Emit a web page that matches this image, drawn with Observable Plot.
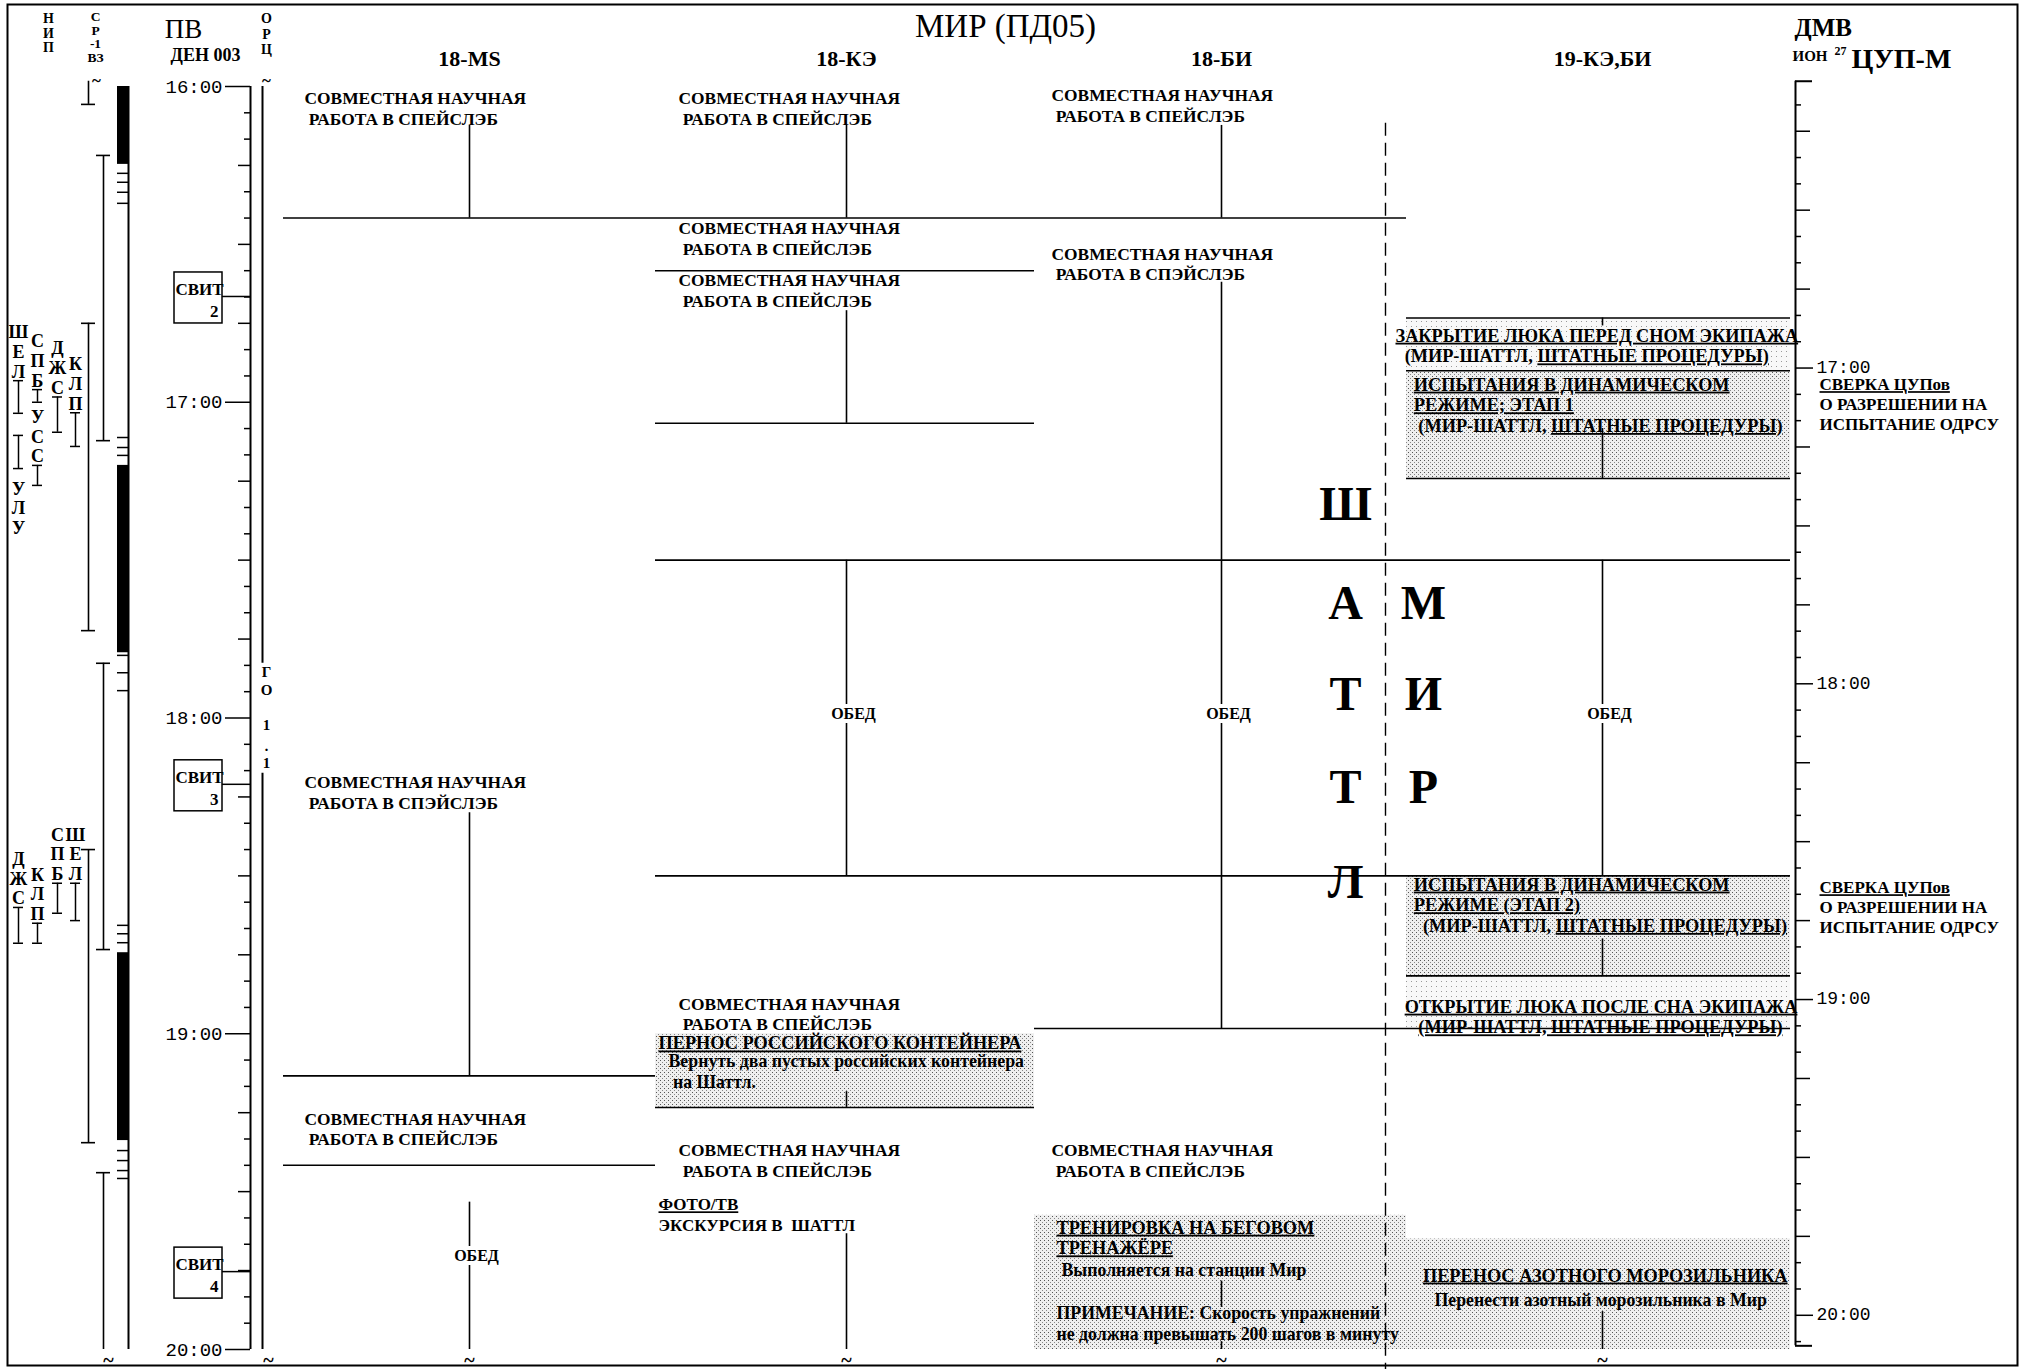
<!DOCTYPE html>
<html>
<head>
<meta charset="utf-8">
<script src="https://cdn.jsdelivr.net/npm/d3@7"></script>
<script src="https://cdn.jsdelivr.net/npm/@observablehq/plot@0.6"></script>
<style>
  html, body { margin: 0; padding: 0; background: #fff; }
  #chart svg { display: block; }
  #chart svg text, #chart svg tspan { white-space: pre; }
</style>
</head>
<body>
<div id="chart"></div>
<script>
const hm = s => { const [h, m] = s.split(":"); return +h * 60 + +m; };

/* ================= DATA ================= */
const chartTitle = "МИР (ПД05)";
const lanes = ["18-MS", "18-КЭ", "18-БИ", "19-КЭ,БИ"];
const pvTickLabels = ["16:00", "17:00", "18:00", "19:00", "20:00"];
const dmvTickLabels = ["17:00", "18:00", "19:00", "20:00"];
const dmvShift = 6.5;               // ДМВ − ПВ, minutes
const mealLabel = "ОБЕД";
const svitLabel = "СВИТ";

const WORK = "СОВМЕСТНАЯ НАУЧНАЯ\n РАБОТА В СПЕЙСЛЭБ";
const WORK_B = "СОВМЕСТНАЯ НАУЧНАЯ\n РАБОТА В СПЭЙСЛЭБ";

// [lane, kind, time of text top, text]   (_…_ = underlined)
const activities = [
  [0, "work", "16:00.5", WORK],
  [0, "work", "18:10.5", WORK_B],
  [0, "work", "19:14.5", WORK],
  [1, "work", "16:00.5", WORK],
  [1, "work", "16:25.2", WORK],
  [1, "work", "16:35.2", WORK],
  [1, "work", "18:52.6", WORK],
  [1, "task", "19:00.2", "_ПЕРНОС РОССИЙСКОГО КОНТЕЙНЕРА_"],
  [1, "note", "19:03.6", "Вернуть два пустых российских контейнера\n на Шаттл."],
  [1, "work", "19:20.4", WORK],
  [1, "minor", "19:30.8", "_ФОТО/ТВ_\nЭКСКУРСИЯ В  ШАТТЛ"],
  [2, "work", "16:00", WORK],
  [2, "work", "16:30.1", WORK_B],
  [2, "work", "19:20.4", WORK],
  [2, "task", "19:35.2", "_ТРЕНИРОВКА НА БЕГОВОМ_\n_ТРЕНАЖЁРЕ_"],
  [2, "note", "19:43.2", "Выполняется на станции Мир"],
  [2, "remark", "19:51.4", "ПРИМЕЧАНИЕ: Скорость упражнений\nне должна превышать 200 шагов в минуту"],
  [3, "task", "16:45.7", "_ЗАКРЫТИЕ ЛЮКА ПЕРЕД СНОМ ЭКИПАЖА_\n  (МИР-ШАТТЛ, _ШТАТНЫЕ ПРОЦЕДУРЫ)_"],
  [3, "task", "16:55", "    _ИСПЫТАНИЯ В ДИНАМИЧЕСКОМ_\n    _РЕЖИМЕ; ЭТАП 1_\n     (МИР-ШАТТЛ, _ШТАТНЫЕ ПРОЦЕДУРЫ)_"],
  [3, "task", "18:30", "    _ИСПЫТАНИЯ В ДИНАМИЧЕСКОМ_\n    _РЕЖИМЕ (ЭТАП 2)_\n      (МИР-ШАТТЛ, _ШТАТНЫЕ ПРОЦЕДУРЫ)_"],
  [3, "task", "18:53.2", "  _ОТКРЫТИЕ ЛЮКА ПОСЛЕ СНА ЭКИПАЖА_\n     _(МИР-ШАТТЛ, ШТАТНЫЕ ПРОЦЕДУРЫ)_"],
  [3, "task", "19:44.3", "      _ПЕРЕНОС АЗОТНОГО МОРОЗИЛЬНИКА_"],
  [3, "note", "19:49", "Перенести азотный морозильника в Мир"]
];
// [lane, time]
const meals = [[0, "19:42.3"], [1, "17:59.3"], [2, "17:59.3"], [3, "17:59.3"]];
// [time, fromLane, toLane]
const separators = [
  ["16:25", 0, 2], ["16:35", 1, 1], ["17:04", 1, 1],
  ["16:44", 3, 3], ["16:54", 3, 3], ["17:14.5", 3, 3],
  ["17:30", 1, 3], ["18:30", 1, 3], ["18:49", 3, 3], ["18:59", 2, 3],
  ["19:08", 0, 0], ["19:14", 1, 1], ["19:25", 0, 0]
];
// [lane, from, to]
const connectors = [
  [0, "16:07.4", "16:25"], [0, "18:18", "19:08"], [0, "19:32", "20:00"],
  [1, "16:07.4", "16:25"], [1, "16:42.6", "17:04"], [1, "17:30", "18:30"], [1, "19:11", "19:14"], [1, "19:38", "20:00"],
  [2, "16:07.4", "16:25"], [2, "16:37.2", "17:30"], [2, "17:30", "18:59"], [2, "19:47", "19:52"], [2, "19:58.5", "20:00"],
  [3, "16:44", "16:45.5"], [3, "17:05", "17:14.5"], [3, "17:30", "18:30"], [3, "18:42", "18:49"], [3, "19:52.8", "20:00"]
];
const shadedBlocks = [[1, "19:00", "19:14"], [2, "19:34.5", "20:00"], [3, "16:54", "17:14.5"], [3, "18:30", "18:49"], [3, "19:39", "20:00"]];
const faintBlocks = [[3, "16:44", "16:54"], [3, "18:49", "18:59"]];

const shuttleLetters = ["Ш", "А", "Т", "Т", "Л"];
const shuttleTimes = ["17:19.4", "17:38.2", "17:55.5", "18:13.2", "18:31.3"];
const mirLetters = ["М", "И", "Р"];
const mirTimes = ["17:38.2", "17:55.5", "18:13.2"];

const cupNotes = [
  ["16:54.8", "_СВЕРКА ЦУПов_\nО РАЗРЕШЕНИИ НА\nИСПЫТАНИЕ ОДРСУ"],
  ["18:30.4", "_СВЕРКА ЦУПов_\nО РАЗРЕШЕНИИ НА\nИСПЫТАНИЕ ОДРСУ"]
];

// НИП visibility bars: [track, start, end]
const nipBars = [
  [0, "15:59", "16:03.4"], [1, "16:13.1", "17:07.3"], [0, "16:45", "17:43.4"],
  [1, "17:49.6", "18:44"], [0, "18:25", "19:20.7"], [1, "19:26.4", "20:00"]
];
// СР-1 ВЗ dark periods and marks
const srDark = [["16:00", "16:14.8"], ["17:12", "17:47.6"], ["18:44.6", "19:20.3"]];
const srTicks = ["16:16.5", "16:18.2", "16:20.1", "16:22.2", "17:06.7", "17:08.6", "17:10.1",
                 "17:48.1", "17:51.4", "17:54.8", "18:39.4", "18:41", "18:42.7",
                 "19:22.2", "19:24.1", "19:26", "19:27.5"];
// station passes: [station, track, start, end, label side]
const passes = [
  ["ШЕЛ", 0, "16:55.9", "17:02.1", "above"], ["СПБ", 1, "16:57.6", "17:00", "above"],
  ["ДЖС", 2, "16:59", "17:05.7", "above"], ["КЛП", 3, "17:02", "17:08.4", "above"],
  ["УЛУ", 0, "17:06.3", "17:12.6", "below"], ["УСС", 1, "17:12", "17:15.8", "above"],
  ["СПБ", 2, "18:31.4", "18:37.1", "above"], ["ШЕЛ", 3, "18:31.4", "18:38.5", "above"],
  ["ДЖС", 0, "18:36", "18:42.8", "above"], ["КЛП", 1, "18:39", "18:42.8", "above"]
];
const svitNumbers = ["2", "3", "4"];
const svitTimes = ["16:39.9", "18:12.6", "19:45.2"];
const orcChars = ["Г", "О", "1", "·", "1"];
const orcTimes = ["17:51.3", "17:54.7", "18:01.4", "18:06.2", "18:08.6"];
const orcGap = ["17:49.6", "18:10.5"];

/* ================= LAYOUT ================= */
const W = 2026, H = 1369;
const Y16 = 86, PXM = 5.2625;                 // 16:00 at 86px, px per minute
const T0 = hm("16:00") - Y16 / PXM, T1 = hm("16:00") + (H - Y16) / PXM;
const tStart = hm("16:00"), tEnd = hm("20:00");
const laneLeft = [283, 655, 1034, 1406], laneRight = [655, 1034, 1406, 1790], laneMid = [469, 846, 1221, 1602];
const kindX = {
  work: [304, 678, 1051, 1400], task: [658, 658, 1056, 1395], minor: [658, 658, 1056, 1395],
  note: [668, 668, 1061, 1434], remark: [1056, 1056, 1056, 1400]
};
const kindSize = {work: 17.4, task: 18.3, minor: 17, note: 17.8, remark: 17.8};
const kindLead = {work: 1.19, task: 1.13, minor: 1.2, note: 1.15, remark: 1.16};
const dashX = 1385, dashFrom = "16:07";
const pvAxisX = 250, dmvAxisX = 1795, orcX = 262, srX0 = 117, srX1 = 128;
const nipX = [88, 103], passX = [18, 37, 57, 75];
const svitX0 = 174, svitX1 = 222;
const SW = 1.6;

const marks = [];
const at = f => () => f;

// shading
marks.push(Plot.rect(faintBlocks, {x1: d => laneLeft[d[0]], x2: d => laneRight[d[0]], y1: d => hm(d[1]), y2: d => hm(d[2]), fill: "url(#dotsLight)"}));
marks.push(Plot.rect(shadedBlocks, {x1: d => laneLeft[d[0]], x2: d => laneRight[d[0]], y1: d => hm(d[1]), y2: d => hm(d[2]), fill: "url(#dotsDense)"}));
// separators and connectors
marks.push(Plot.ruleY(separators, {y: d => hm(d[0]), x1: d => laneLeft[d[1]], x2: d => laneRight[d[2]], strokeWidth: SW}));
marks.push(Plot.ruleX(connectors, {x: d => laneMid[d[0]], y1: d => hm(d[1]), y2: d => hm(d[2]), strokeWidth: SW}));
marks.push(Plot.ruleX([0], {x: at(dashX), y1: at(hm(dashFrom)), y2: at(T1), strokeWidth: 1.4, strokeDasharray: "13,7"}));

// activity texts
for (const kind of Object.keys(kindX)) {
  marks.push(Plot.text(activities.filter(d => d[1] === kind), {
    x: d => kindX[kind][d[0]], y: d => hm(d[2]), text: d => d[3],
    textAnchor: "start", lineAnchor: "top", fontSize: kindSize[kind], fontWeight: "bold", lineHeight: kindLead[kind]
  }));
}
marks.push(Plot.text(meals, {x: d => laneMid[d[0]] + 7, y: d => hm(d[1]), text: at(mealLabel), fontSize: 16, fontWeight: "bold",
  stroke: "white", strokeWidth: 8, paintOrder: "stroke", fill: "black"}));

// ШАТТЛ / МИР
marks.push(Plot.text(shuttleLetters, {x: at(1345), y: (d, i) => hm(shuttleTimes[i]), text: d => d, fontSize: 48, fontWeight: "bold"}));
marks.push(Plot.text(mirLetters, {x: at(1423), y: (d, i) => hm(mirTimes[i]), text: d => d, fontSize: 48, fontWeight: "bold"}));

// headers
const hdr = (label, x, dy, o = {}) => Plot.text([label], {x: at(x), frameAnchor: "top", lineAnchor: "middle", dy, text: d => d, ...o});
marks.push(hdr(chartTitle, 1005, 26, {fontSize: 33}));
marks.push(Plot.text(lanes, {x: (d, i) => laneMid[i], frameAnchor: "top", lineAnchor: "middle", dy: 58, text: d => d, fontSize: 22, fontWeight: "bold"}));
marks.push(hdr("Н\nИ\nП", 48, 12, {lineAnchor: "top", fontSize: 14, fontWeight: "bold", lineHeight: 1.05}));
marks.push(hdr("С\nР\n-1\nВЗ", 95, 11, {lineAnchor: "top", fontSize: 13.5, fontWeight: "bold", lineHeight: 1.0}));
marks.push(hdr("О\nР\nЦ", 266, 12, {lineAnchor: "top", fontSize: 14, fontWeight: "bold", lineHeight: 1.1}));
marks.push(hdr("ПВ", 183, 29, {fontSize: 27}));
marks.push(hdr("ДЕН 003", 205, 55, {fontSize: 18, fontWeight: "bold"}));
marks.push(hdr("ДМВ", 1794, 27, {textAnchor: "start", fontSize: 25, fontWeight: "bold"}));
marks.push(hdr("ИОН", 1792, 56, {textAnchor: "start", fontSize: 15, fontWeight: "bold"}));
marks.push(hdr("27", 1834, 51, {textAnchor: "start", fontSize: 12, fontWeight: "bold"}));
marks.push(hdr("ЦУП-М", 1851, 59, {textAnchor: "start", fontSize: 28, fontWeight: "bold"}));

// ПВ axis (left)
const pvTicks = d3.range(tStart, tEnd + 1, 5);
marks.push(Plot.ruleX([0], {x: at(pvAxisX), y1: at(tStart), y2: at(tEnd), strokeWidth: 2}));
marks.push(Plot.ruleY(pvTicks, {y: d => d, x1: d => pvAxisX - (d % 60 === 0 ? 25 : d % 15 === 0 ? 12 : 6), x2: at(pvAxisX), strokeWidth: 1.5}));
marks.push(Plot.text(pvTickLabels, {x: at(pvAxisX - 28), y: d => hm(d), text: d => d, textAnchor: "end", fontFamily: "Liberation Mono", fontSize: 19}));

// ДМВ axis (right)
const dmvTicks = d3.range(hm("16:10"), hm("20:05") + 1, 5);
marks.push(Plot.ruleX([0], {x: at(dmvAxisX), y1: at(tStart - 1), y2: at(tEnd - 0.7), strokeWidth: 2}));
marks.push(Plot.ruleY(dmvTicks, {y: d => d - dmvShift, x1: at(dmvAxisX), x2: d => dmvAxisX + (d % 60 === 0 ? 18 : d % 15 === 0 ? 15 : 6), strokeWidth: 1.5}));
marks.push(Plot.ruleY([tStart - 1, tEnd - 0.7], {y: d => d, x1: at(dmvAxisX), x2: at(dmvAxisX + 17), strokeWidth: 2}));
marks.push(Plot.text(dmvTickLabels, {x: at(dmvAxisX + 21), y: d => hm(d) - dmvShift, dy: -1, text: d => d, textAnchor: "start", fontFamily: "Liberation Mono", fontSize: 18}));
marks.push(Plot.text(cupNotes, {x: at(1819), y: d => hm(d[0]), dy: 1, text: d => d[1], textAnchor: "start", lineAnchor: "top", fontSize: 17, fontWeight: "bold", lineHeight: 1.18}));

// НИП bars
marks.push(Plot.ruleX(nipBars, {x: d => nipX[d[0]], y1: d => hm(d[1]), y2: d => hm(d[2]), strokeWidth: SW}));
const nipCaps = nipBars.flatMap(d => [[d[0], d[1]], [d[0], d[2]]]).filter(c => hm(c[1]) >= tStart && hm(c[1]) < tEnd);
marks.push(Plot.ruleY(nipCaps, {y: d => hm(d[1]), x1: d => nipX[d[0]] - 7, x2: d => nipX[d[0]] + 7, strokeWidth: SW}));

// СР-1 ВЗ
marks.push(Plot.ruleX([0], {x: at(srX1), y1: at(tStart), y2: at(tEnd), strokeWidth: 2}));
marks.push(Plot.rect(srDark, {x1: at(srX0), x2: at(srX1), y1: d => hm(d[0]), y2: d => hm(d[1]), fill: "black"}));
marks.push(Plot.ruleY(srTicks, {y: d => hm(d), x1: at(srX0), x2: at(srX1), strokeWidth: 1.5}));

// station passes
marks.push(Plot.ruleX(passes, {x: d => passX[d[1]], y1: d => hm(d[2]), y2: d => hm(d[3]), strokeWidth: 1.5}));
marks.push(Plot.ruleY(passes.flatMap(d => [[d[1], d[2]], [d[1], d[3]]]), {y: d => hm(d[1]), x1: d => passX[d[0]] - 5, x2: d => passX[d[0]] + 5, strokeWidth: 1.5}));
marks.push(Plot.text(passes.filter(d => d[4] === "above"), {x: d => passX[d[1]], y: d => hm(d[2]), text: d => [...d[0]].join("\n"),
  lineAnchor: "bottom", dy: -3, fontSize: 18, fontWeight: "bold", lineHeight: 1.1}));
marks.push(Plot.text(passes.filter(d => d[4] === "below"), {x: d => passX[d[1]], y: d => hm(d[3]), text: d => [...d[0]].join("\n"),
  lineAnchor: "top", dy: 12, fontSize: 18, fontWeight: "bold", lineHeight: 1.1}));

// СВИТ boxes
marks.push(Plot.rect(svitTimes, {x1: at(svitX0), x2: at(svitX1), y1: d => hm(d) - 24 / PXM, y2: d => hm(d) + 27 / PXM, fill: "white", stroke: "black", strokeWidth: 1.5}));
marks.push(Plot.ruleY(svitTimes, {y: d => hm(d), x1: at(svitX1), x2: at(pvAxisX), strokeWidth: 1.5}));
marks.push(Plot.text(svitTimes, {x: at(svitX0 + 1), y: d => hm(d), dy: -7, text: at(svitLabel), textAnchor: "start", fontSize: 17, fontWeight: "bold"}));
marks.push(Plot.text(svitTimes, {x: at(svitX1 - 4), y: d => hm(d), dy: 15, text: (d, i) => svitNumbers[i], textAnchor: "end", fontSize: 17, fontWeight: "bold"}));

// ОРЦ
marks.push(Plot.ruleX([[tStart, hm(orcGap[0])], [hm(orcGap[1]), tEnd]], {x: at(orcX), y1: d => d[0], y2: d => d[1], strokeWidth: 2}));
marks.push(Plot.text(orcChars, {x: at(orcX + 4), y: (d, i) => hm(orcTimes[i]), text: d => d, fontSize: 15, fontWeight: "bold"}));

// break marks
marks.push(Plot.text([96, 266], {x: d => d, frameAnchor: "top", lineAnchor: "middle", dy: 80, text: at("~"), fontSize: 17, fontWeight: "bold"}));
marks.push(Plot.text([108, 268, ...laneMid], {x: d => d, frameAnchor: "bottom", lineAnchor: "middle", dy: -9, text: at("~"), fontSize: 20, fontWeight: "bold"}));

// frame
marks.push(Plot.frame({stroke: "black", strokeWidth: 2, insetTop: 4, insetLeft: 7, insetRight: 9, insetBottom: 4}));

const chart = Plot.plot({
  width: W, height: H, margin: 0,
  x: {type: "linear", domain: [0, W], range: [0, W], axis: null},
  y: {type: "linear", domain: [T0, T1], range: [0, H], axis: null},
  style: {fontFamily: "'Liberation Serif', 'Times New Roman', serif", background: "white", color: "black", overflow: "visible"},
  marks
});

// patterns for halftone shading
const defs = d3.select(chart).insert("defs", ":first-child");
const pd = defs.append("pattern").attr("id", "dotsDense").attr("width", 4).attr("height", 4).attr("patternUnits", "userSpaceOnUse");
pd.append("rect").attr("width", 4).attr("height", 4).attr("fill", "#efefef");
pd.append("rect").attr("x", 0).attr("y", 0).attr("width", 1).attr("height", 1).attr("fill", "#555");
pd.append("rect").attr("x", 2).attr("y", 2).attr("width", 1).attr("height", 1).attr("fill", "#888");
const pl = defs.append("pattern").attr("id", "dotsLight").attr("width", 5).attr("height", 5).attr("patternUnits", "userSpaceOnUse");
pl.append("rect").attr("width", 5).attr("height", 5).attr("fill", "#f8f8f8");
pl.append("rect").attr("x", 1).attr("y", 1).attr("width", 1).attr("height", 1).attr("fill", "#999");

chart.setAttributeNS("http://www.w3.org/XML/1998/namespace", "xml:space", "preserve");

// underline segments marked with _…_
for (const t of chart.querySelectorAll("text")) {
  const walker = document.createTreeWalker(t, NodeFilter.SHOW_TEXT);
  const nodes = [];
  while (walker.nextNode()) if (walker.currentNode.nodeValue.includes("_")) nodes.push(walker.currentNode);
  for (const node of nodes) {
    const parts = node.nodeValue.split("_");
    const frag = document.createDocumentFragment();
    parts.forEach((p, i) => {
      if (!p) return;
      if (i % 2 === 1) {
        const ts = document.createElementNS("http://www.w3.org/2000/svg", "tspan");
        ts.setAttribute("text-decoration", "underline");
        ts.style.textDecoration = "underline";
        ts.textContent = p;
        frag.appendChild(ts);
      } else frag.appendChild(document.createTextNode(p));
    });
    node.parentNode.replaceChild(frag, node);
  }
}

document.getElementById("chart").append(chart);
</script>
</body>
</html>
